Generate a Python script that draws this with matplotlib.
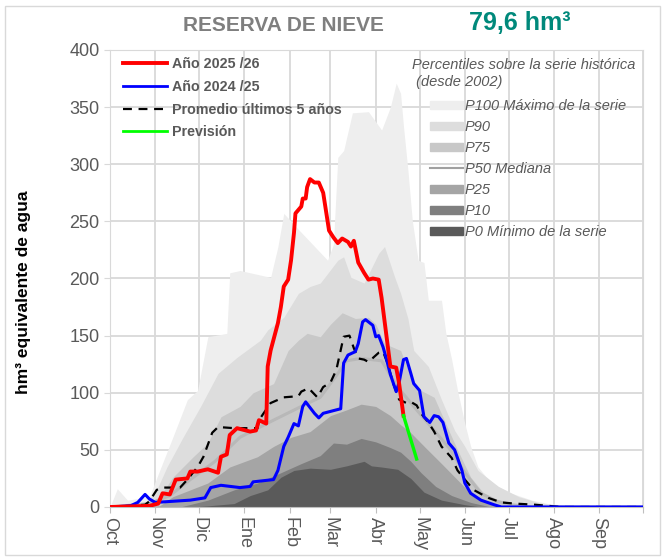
import matplotlib
matplotlib.use('Agg')
import matplotlib.pyplot as plt
import matplotlib.patches as patches
from matplotlib.lines import Line2D

plt.rcParams['font.family'] = ['Liberation Sans', 'DejaVu Sans']

# x values are days since 1 October
months = ['Oct', 'Nov', 'Dic', 'Ene', 'Feb', 'Mar', 'Abr', 'May', 'Jun', 'Jul', 'Ago', 'Sep']
month_start = [0, 31, 61, 92, 123, 151, 182, 212, 243, 273, 304, 335, 365]

p100_day = [0, 5, 12, 27, 34, 43, 53, 60, 67, 80, 82, 89, 110, 115, 119, 129, 149, 153, 156, 160,
            166, 177, 186, 192, 196, 199, 201, 204, 207, 211, 215, 218, 227, 230, 234, 238, 243, 247,
            252, 261, 275, 289, 300, 323, 365]
p100_val = [0, 16, 6, 9, 32, 61, 94, 102, 149, 152, 205, 207, 201, 228, 257, 243, 216, 230, 306, 312,
            345, 346, 330, 350, 371, 362, 333, 295, 251, 216, 214, 181, 181, 152, 129, 102, 73, 53,
            35, 21, 12, 6, 3, 0, 0]

p90_day = [0, 24, 32, 39, 50, 62, 74, 87, 103, 108, 119, 129, 137, 144, 156, 160, 165, 174, 184, 188,
           195, 199, 204, 208, 218, 227, 236, 243, 252, 266, 280, 293, 309, 323, 365]
p90_val = [0, 3, 15, 35, 61, 88, 117, 131, 146, 155, 166, 187, 193, 196, 216, 219, 201, 196, 222, 228,
           201, 187, 165, 137, 123, 94, 67, 53, 32, 18, 9, 4, 1, 0, 0]

p75_day = [0, 27, 34, 43, 57, 67, 76, 89, 98, 112, 122, 129, 135, 144, 151, 159, 168, 177, 182, 188,
           199, 206, 213, 222, 232, 238, 247, 256, 268, 282, 296, 365]
p75_val = [0, 3, 9, 26, 44, 56, 79, 88, 100, 108, 137, 146, 152, 149, 160, 170, 165, 166, 160, 143,
           137, 114, 102, 96, 67, 50, 26, 12, 4, 1, 0, 0]

p50_day = [0, 27, 41, 55, 72, 89, 112, 131, 144, 155, 162, 172, 186, 197, 210, 220, 232, 243, 254,
           265, 275, 289, 365]
p50_val = [0, 3, 10, 24, 40, 61, 76, 88, 96, 115, 128, 130, 128, 105, 85, 70, 52, 30, 12, 5, 2, 0, 0]

p25_day = [0, 34, 43, 67, 82, 101, 112, 124, 137, 151, 162, 172, 182, 192, 199, 206, 216, 227, 237,
           247, 258, 268, 282, 365]
p25_val = [0, 1, 9, 21, 35, 44, 53, 61, 66, 80, 85, 90, 88, 80, 72, 65, 52, 38, 25, 12, 5, 1, 0, 0]

p10_day = [0, 48, 67, 85, 101, 117, 131, 144, 153, 162, 172, 182, 192, 199, 206, 213, 223, 234, 247,
           261, 365]
p10_val = [0, 0, 6, 15, 21, 30, 38, 45, 56, 55, 60, 57, 52, 48, 40, 30, 18, 10, 4, 0, 0]

p0_day = [0, 55, 67, 85, 96, 108, 117, 126, 137, 151, 162, 174, 179, 186, 197, 206, 215, 227, 243,
          254, 365]
p0_val = [0, 0, 1, 3, 10, 15, 26, 32, 34, 33, 36, 40, 36, 35, 33, 25, 13, 6, 2, 0, 0]

# Año 2025/26 (current year)
y2526_day = [0, 27, 33, 36, 41, 45, 53, 55, 60, 67, 74, 76, 80, 82, 87, 96, 100, 102, 107, 108,
             110, 115, 117, 119, 122, 124, 126, 127, 131, 132, 134, 135, 137, 140, 143, 146, 150,
             153, 156, 159, 163, 165, 167, 170, 174, 177, 180, 184, 186, 192, 196, 198, 201]
y2526_val = [0, 1, 3, 12, 11, 24, 25, 31, 31, 33, 30, 44, 46, 63, 69, 66, 67, 76, 73, 123,
             137, 161, 175, 193, 199, 216, 240, 257, 263, 270, 270, 280, 287, 284, 284, 275, 242,
             236, 231, 235, 232, 228, 233, 214, 205, 199, 200, 199, 183, 123, 122, 108, 80]

# Año 2024/25
y2425_day = [0, 14, 19, 24, 27, 31, 55, 65, 69, 76, 89, 96, 98, 112, 115, 119, 122, 126, 129, 132,
             134, 140, 143, 146, 158, 160, 163, 168, 170, 173, 175, 180, 182, 184, 187, 189, 192,
             196, 198, 201, 203, 206, 208, 212, 215, 219, 222, 225, 228, 232, 236, 241, 243, 247,
             254, 263, 268, 365]
y2425_val = [0, 1, 4, 11, 7, 4, 6, 8, 17, 19, 17, 18, 22, 24, 32, 53, 61, 73, 71, 88,
             92, 82, 78, 82, 86, 126, 133, 136, 143, 162, 164, 159, 149, 150, 140, 131, 116,
             101, 109, 129, 130, 117, 108, 102, 79, 74, 80, 79, 74, 56, 50, 32, 21, 12,
             6, 2, 0, 0]

# Promedio últimos 5 años
avg5_day = [0, 24, 27, 32, 36, 48, 53, 60, 64, 70, 74, 85, 101, 102, 110, 119, 129, 131, 136, 142,
            146, 151, 155, 160, 164, 167, 170, 174, 177, 184, 187, 190, 194, 198, 203, 206, 210,
            213, 218, 222, 227, 234, 238, 243, 249, 259, 268, 277, 291, 309, 365]
avg5_val = [0, 2, 5, 15, 17, 17, 24, 35, 44, 65, 70, 69, 69, 76, 91, 96, 97, 101, 104, 96,
            105, 109, 120, 149, 150, 139, 130, 129, 127, 135, 136, 126, 108, 94, 91, 92, 89,
            82, 74, 66, 53, 43, 32, 24, 15, 8, 4, 3, 2, 0, 0]

# Previsión
prev_day = [201, 210]
prev_val = [80, 42]

current_label = '79,6 hm³'

GREY_TXT = '#595959'
band_colors = {'P100': '#EEEEEE', 'P90': '#DDDDDD', 'P75': '#C8C8C8',
               'P50': '#B8B8B8', 'P25': '#A5A5A5', 'P10': '#7F7F7F', 'P0': '#5A5A5A'}

fig = plt.figure(figsize=(6.65, 5.58), dpi=100)
ax = fig.add_axes([0.1654, 0.0914, 0.8015, 0.819])

# percentile bands, lightest first
for name, d, v in [('P100', p100_day, p100_val), ('P90', p90_day, p90_val),
                   ('P75', p75_day, p75_val), ('P25', p25_day, p25_val),
                   ('P10', p10_day, p10_val), ('P0', p0_day, p0_val)]:
    ax.fill_between(d, 0, v, color=band_colors[name], linewidth=0, zorder=2)
ax.plot(p50_day, p50_val, color=band_colors['P50'], lw=2.2, zorder=3)

ax.plot(avg5_day, avg5_val, color='black', lw=1.6, ls=(0, (4, 3)), zorder=4)
ax.plot(y2425_day, y2425_val, color='#0000FF', lw=2.2, zorder=5)
ax.plot(y2526_day, y2526_val, color='#FF0000', lw=2.8, zorder=6)
ax.plot(prev_day, prev_val, color='#00FF00', lw=2.4, zorder=6)

ax.set_xlim(0, 365)
ax.set_ylim(0, 400)
ax.set_xticks(month_start)
ax.set_xticklabels(months + [''], rotation=270, fontsize=13, color=GREY_TXT, va='top', ha='center')
ax.set_yticks(range(0, 401, 50))
ax.tick_params(axis='y', labelsize=13, colors=GREY_TXT, length=4, color='#D9D9D9')
ax.tick_params(axis='x', length=4, color='#BFBFBF', pad=3)
ax.grid(True, color='#D9D9D9', lw=1.3, zorder=0)
ax.set_axisbelow(True)
for side in ['top', 'right', 'left']:
    ax.spines[side].set_color('#D9D9D9')
ax.spines['bottom'].set_color('#BFBFBF')
ax.set_ylabel('hm³ equivalente de agua', fontsize=12.5, fontweight='bold')
ax.yaxis.set_label_coords(-0.148, 0.47)

# legend for the series
line_handles = [
    Line2D([], [], color='#FF0000', lw=2.8),
    Line2D([], [], color='#0000FF', lw=2.0),
    Line2D([], [], color='black', lw=1.6, ls=(0, (4, 3))),
    Line2D([], [], color='#00FF00', lw=2.0),
]
leg1 = ax.legend(line_handles, ['Año 2025 /26', 'Año 2024 /25', 'Promedio últimos 5 años', 'Previsión'],
                 loc='upper left', bbox_to_anchor=(0.0, 1.012), frameon=False, handlelength=3.1,
                 handletextpad=0.35, labelspacing=0.6, prop={'weight': 'bold', 'size': 10.3})
for t in leg1.get_texts():
    t.set_color(GREY_TXT)
ax.add_artist(leg1)

# legend for the percentiles (title drawn as separate text, it sits left of the keys)
band_handles = [
    patches.Patch(color=band_colors['P100']),
    patches.Patch(color=band_colors['P90']),
    patches.Patch(color=band_colors['P75']),
    Line2D([], [], color='#A0A0A0', lw=1.5),
    patches.Patch(color=band_colors['P25']),
    patches.Patch(color=band_colors['P10']),
    patches.Patch(color=band_colors['P0']),
]
band_labels = ['P100 Máximo de la serie', 'P90', 'P75', 'P50 Mediana', 'P25', 'P10', 'P0 Mínimo de la serie']
leg2 = ax.legend(band_handles, band_labels, loc='upper left', bbox_to_anchor=(0.578, 0.918),
                 frameon=False, handlelength=2.3, handleheight=0.55, handletextpad=0.1,
                 labelspacing=0.48, borderpad=0.3, prop={'style': 'italic', 'size': 10.5})
for t in leg2.get_texts():
    t.set_color(GREY_TXT)
ax.text(0.567, 0.982, 'Percentiles sobre la serie histórica\n (desde 2002)', transform=ax.transAxes,
        ha='left', va='top', fontsize=10.5, style='italic', color=GREY_TXT, linespacing=1.25)

fig.text(0.426, 0.955, 'RESERVA DE NIEVE', ha='center', va='center', fontsize=15,
         fontweight='bold', color='#7F7F7F', family=['Liberation Sans Narrow', 'Liberation Sans'])
fig.text(0.782, 0.958, current_label, ha='center', va='center', fontsize=18,
         fontweight='bold', color='#00897B')

fig.patches.append(patches.Rectangle((0.008, 0.005), 0.984, 0.985, transform=fig.transFigure,
                                     fill=False, edgecolor='#D9D9D9', lw=1.0))

fig.savefig('out.png', dpi=100, facecolor='white')
